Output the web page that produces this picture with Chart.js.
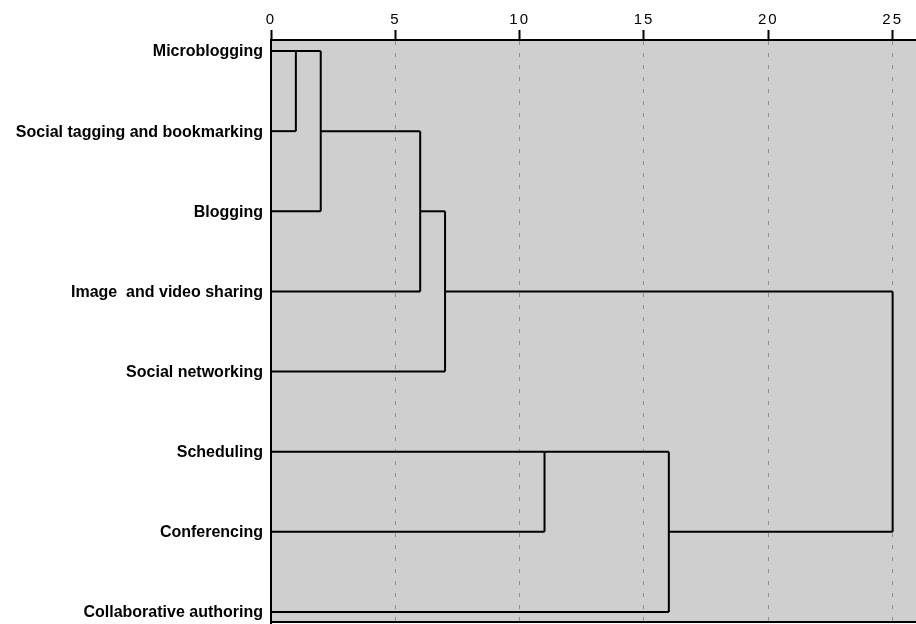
<!DOCTYPE html>
<html>
<head>
<meta charset="utf-8">
<script src="https://cdn.jsdelivr.net/npm/chart.js@4/dist/chart.umd.min.js"></script>
<style>
  body { margin: 0; background: #fff; }
</style>
</head>
<body>
<canvas id="myChart" width="916" height="624"></canvas>
<script>
"use strict";

//--------------------DATA

// leaves, top to bottom
let leaves = [
  "Microblogging",
  "Social tagging and bookmarking",
  "Blogging",
  "Image  and video sharing",
  "Social networking",
  "Scheduling",
  "Conferencing",
  "Collaborative authoring",
];

// merges: ids 0-7 are leaves, 8+ are merge results (8 = first merge, ...)
let mergeLeft = [0, 8, 9, 10, 5, 12, 11];
let mergeRight = [1, 2, 3, 4, 6, 7, 13];
let mergeHeight = [1, 2, 6, 7, 11, 16, 25];
// row where a merged cluster's branch line is drawn
let mergeRow = [0, 1, 2, 3, 5, 6, null];

let xTicks = [0, 5, 10, 15, 20, 25];

//--------------------FUNCTIONS

function rowOf(id) {
  return id < leaves.length ? id : mergeRow[id - leaves.length];
}

function heightOf(id) {
  return id < leaves.length ? 0 : mergeHeight[id - leaves.length];
}

function segment(points) {
  return {
    data: points,
    showLine: true,
    borderColor: "#000",
    borderWidth: 2,
    pointRadius: 0,
    fill: false,
  };
}

// build the dendrogram lines from the merges
function buildDatasets() {
  let sets = [];
  for (let k = 0; k < mergeHeight.length; k++) {
    let h = mergeHeight[k];
    let children = [mergeLeft[k], mergeRight[k]];
    // vertical joining the two branches
    sets.push(segment([
      { x: h, y: rowOf(children[0]) },
      { x: h, y: rowOf(children[1]) },
    ]));
    // horizontal branch for each child
    for (let c of children) {
      sets.push(segment([
        { x: heightOf(c), y: rowOf(c) },
        { x: h, y: rowOf(c) },
      ]));
    }
  }
  return sets;
}

// gray plot background, bottom frame line, spaced top tick labels
const plotFrame = {
  id: "plotFrame",
  beforeDraw(chart) {
    let a = chart.chartArea;
    let ctx = chart.ctx;
    ctx.save();
    ctx.fillStyle = "#cfcfcf";
    ctx.fillRect(a.left, a.top, a.right - a.left, a.bottom - a.top);
    ctx.restore();
  },
  afterDatasetsDraw(chart) {
    // x tick labels are drawn after this (ticks.z = 1)
    chart.ctx.letterSpacing = "2px";
  },
  afterDraw(chart) {
    let a = chart.chartArea;
    let ctx = chart.ctx;
    ctx.letterSpacing = "0px";
    ctx.save();
    ctx.strokeStyle = "#000";
    ctx.lineWidth = 2;
    ctx.beginPath();
    ctx.moveTo(a.left, a.bottom - 1);
    ctx.lineTo(a.right, a.bottom - 1);
    ctx.stroke();
    ctx.restore();
  },
};

//--------------------CHART

const ctx = document.getElementById("myChart").getContext("2d");
const myChart = new Chart(ctx, {
  type: "scatter",
  data: { datasets: buildDatasets() },
  plugins: [plotFrame],
  options: {
    responsive: false,
    devicePixelRatio: 1,
    animation: false,
    layout: { padding: { left: 0, right: 0, top: 0, bottom: 1 } },
    plugins: {
      legend: { display: false },
      tooltip: { enabled: false },
    },
    scales: {
      x: {
        type: "linear",
        position: "top",
        min: 0,
        max: 25.94,
        afterBuildTicks: (scale) => {
          scale.ticks = xTicks.map((v) => ({ value: v }));
        },
        afterFit: (scale) => {
          scale.height = 40;
          scale.paddingLeft = 0;
          scale.paddingRight = 0;
        },
        ticks: {
          color: "#000",
          padding: 1,
          z: 1,
          font: { family: "Liberation Sans, Arial, sans-serif", size: 15 },
        },
        grid: {
          color: "#8f8f8f",
          lineWidth: 1,
          tickLength: 10,
          tickColor: "#000",
          tickWidth: 2,
        },
        border: { display: true, color: "#000", width: 2, dash: [4, 8] },
      },
      y: {
        type: "linear",
        reverse: true,
        min: -0.1375,
        max: 7.1375,
        afterBuildTicks: (scale) => {
          scale.ticks = leaves.map((_, i) => ({ value: i }));
        },
        afterFit: (scale) => {
          scale.width = 271;
          scale.paddingTop = 0;
          scale.paddingBottom = 0;
        },
        ticks: {
          color: "#000",
          padding: 8,
          labelOffset: 1,
          font: { family: "Liberation Sans, Arial, sans-serif", size: 16, weight: "bold" },
          callback: (v) => leaves[v],
        },
        grid: { display: false, drawTicks: false },
        border: { display: true, color: "#000", width: 2 },
      },
    },
  },
});
</script>
</body>
</html>
